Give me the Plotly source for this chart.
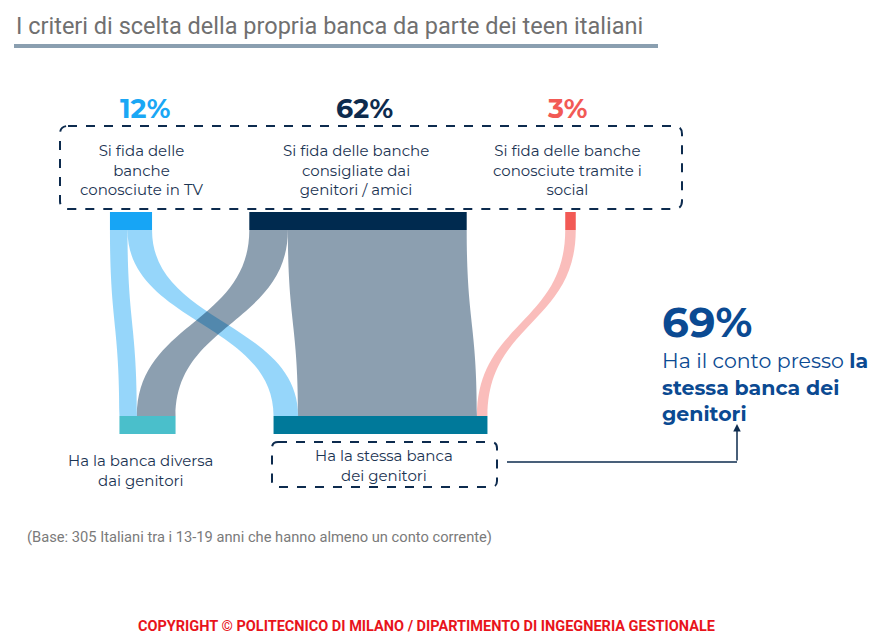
import plotly.graph_objects as go

# ---- data ----
node_labels = [
    "Si fida delle banche conosciute in TV",
    "Si fida delle banche consigliate dai genitori / amici",
    "Si fida delle banche conosciute tramite i social",
    "Ha la banca diversa dai genitori",
    "Ha la stessa banca dei genitori",
]
node_colors = ["#17A5F5", "#002A4F", "#F25A55", "#4ABFCB", "#00799A"]
link_source = [0, 0, 1, 1, 2]
link_target = [3, 4, 3, 4, 4]
link_value = [5, 7, 11, 51, 3]
link_colors = ["rgba(23,165,245,0.45)", "rgba(23,165,245,0.45)",
               "rgba(0,42,79,0.45)", "rgba(0,42,79,0.45)",
               "rgba(242,90,85,0.40)"]
top_pct = ["12%", "62%", "3%"]
top_text = ["Si fida delle<br>banche<br>conosciute in TV",
            "Si fida delle banche<br>consigliate dai<br>genitori / amici",
            "Si fida delle banche<br>conosciute tramite i<br>social"]
top_pct_colors = ["#1AA7F5", "#0D2B4E", "#F25A55"]
headline_pct = "69%"
headline_lines = ["Ha il conto presso <b>la</b>", "<b>stessa banca dei</b>", "<b>genitori</b>"]

W, H = 896, 642
def px(x): return x / W
def py(y): return 1 - y / H

# sankey domain (pixels): full height so fixed positions stay within [0, 1]
dx0, dx1 = 110, 576
dy0, dy1 = 0, 642
dw, dh = dx1 - dx0, dy1 - dy0

# node centers in pixels; for vertical sankeys plotly scales node.x by the
# domain width (depth axis) and node.y by the domain height (cross axis)
node_cx = [131, 358, 570.5, 147.5, 380.5]
node_cy = [221, 221, 221, 425, 425]
node_depth = [(c - dy0) / dw for c in node_cy]
node_cross = [(c - dx0) / dh for c in node_cx]

fig = go.Figure(go.Sankey(
    orientation="v",
    arrangement="fixed",
    domain=dict(x=[px(dx0), px(dx1)], y=[py(dy1), py(dy0)]),
    node=dict(label=node_labels, color=node_colors, pad=98, thickness=18,
              line=dict(width=0), x=node_depth, y=node_cross),
    link=dict(source=link_source, target=link_target, value=link_value,
              color=link_colors),
    textfont=dict(color="rgba(0,0,0,0)", size=1),
))

navy = "#0D2B4E"
body_font = "Montserrat, Inter, Open Sans, sans-serif"
rob = "Roboto, sans-serif"

ann = []
ann.append(dict(x=px(14), y=py(26), xref="paper", yref="paper", xanchor="left", yanchor="middle",
                text="I criteri di scelta della propria banca da parte dei teen italiani",
                showarrow=False, font=dict(family=rob, size=23.5, color="#707070")))
for cx, t, c in zip([145, 364, 567], top_pct, top_pct_colors):
    ann.append(dict(x=px(cx), y=py(109), xref="paper", yref="paper", xanchor="center", yanchor="middle",
                    text="<b>%s</b>" % t, showarrow=False,
                    font=dict(family=body_font, size=27, color=c)))
for cx, t in zip([141, 356, 567], top_text):
    ann.append(dict(x=px(cx), y=py(170), xref="paper", yref="paper", xanchor="center", yanchor="middle",
                    text=t, showarrow=False, align="center",
                    font=dict(family=body_font, size=15, color="#1B3453")))
ann.append(dict(x=px(140), y=py(470), xref="paper", yref="paper", xanchor="center", yanchor="middle",
                text="Ha la banca diversa<br>dai genitori", showarrow=False, align="center",
                font=dict(family=body_font, size=15, color="#1B3453")))
ann.append(dict(x=px(384), y=py(465), xref="paper", yref="paper", xanchor="center", yanchor="middle",
                text="Ha la stessa banca<br>dei genitori", showarrow=False, align="center",
                font=dict(family=body_font, size=15, color="#1B3453")))
ann.append(dict(x=px(660), y=py(322), xref="paper", yref="paper", xanchor="left", yanchor="middle",
                text="<b>%s</b>" % headline_pct, showarrow=False,
                font=dict(family=body_font, size=42, color="#0B4A92")))
ann.append(dict(x=px(660), y=py(387), xref="paper", yref="paper", xanchor="left", yanchor="middle",
                text="<br>".join(headline_lines), showarrow=False, align="left",
                font=dict(family=body_font, size=20.5, color="#0B4A92")))
ann.append(dict(x=px(25), y=py(537), xref="paper", yref="paper", xanchor="left", yanchor="middle",
                text="(Base: 305 Italiani tra i 13-19 anni che hanno almeno un conto corrente)",
                showarrow=False, font=dict(family=rob, size=14.7, color="#7A7A7A")))
ann.append(dict(x=px(426), y=py(626), xref="paper", yref="paper", xanchor="center", yanchor="middle",
                text="<b>COPYRIGHT © POLITECNICO DI MILANO / DIPARTIMENTO DI INGEGNERIA GESTIONALE</b>",
                showarrow=False, font=dict(family=rob, size=14.5, color="#E8141B")))
# arrow up
ann.append(dict(x=px(737), y=py(424), ax=0, ay=38, xref="paper", yref="paper",
                axref="pixel", ayref="pixel", text="", showarrow=True, arrowhead=2,
                arrowsize=1, arrowwidth=1.5, arrowcolor=navy))


def rbox(x0, y0, x1, y1, r):
    X0, X1 = px(x0), px(x1)
    Y0, Y1 = py(y0), py(y1)
    rx, ry = r / W, r / H
    return (f"M{X0+rx},{Y0} L{X1-rx},{Y0} Q{X1},{Y0} {X1},{Y0-ry} "
            f"L{X1},{Y1+ry} Q{X1},{Y1} {X1-rx},{Y1} L{X0+rx},{Y1} "
            f"Q{X0},{Y1} {X0},{Y1+ry} L{X0},{Y0-ry} Q{X0},{Y0} {X0+rx},{Y0} Z")

shapes = [
    dict(type="line", xref="paper", yref="paper", x0=px(14), x1=px(658), y0=py(46), y1=py(46),
         line=dict(color="#8A9FB0", width=4)),
    dict(type="path", xref="paper", yref="paper", path=rbox(60, 126, 682, 209, 8),
         line=dict(color=navy, width=2, dash="dash")),
    dict(type="path", xref="paper", yref="paper", path=rbox(272, 442, 497, 487, 6),
         line=dict(color=navy, width=2, dash="dash")),
    dict(type="line", xref="paper", yref="paper", x0=px(507), x1=px(737), y0=py(462), y1=py(462),
         line=dict(color=navy, width=1.5)),
]

fig.update_layout(width=W, height=H, margin=dict(l=0, r=0, t=0, b=0),
                  paper_bgcolor="white", plot_bgcolor="white",
                  annotations=ann, shapes=shapes, showlegend=False)
fig.write_html("out.html", config={"displayModeBar": False},
               post_script="document.body.style.margin='0';")
